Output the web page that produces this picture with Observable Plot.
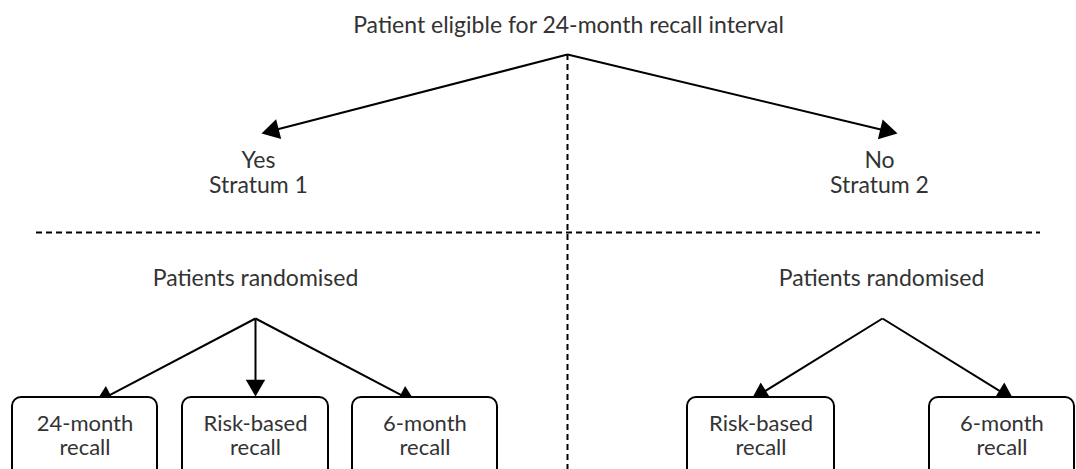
<!DOCTYPE html>
<html>
<head>
<meta charset="utf-8">
<script src="https://cdn.jsdelivr.net/npm/d3@7"></script>
<script src="https://cdn.jsdelivr.net/npm/@observablehq/plot@0.6"></script>
<style>
  html, body { margin: 0; padding: 0; background: #fff; overflow: hidden; }
  #chart svg { display: block; overflow: hidden; }
</style>
</head>
<body>
<div id="chart"></div>
<script>
// ---- Data (flowchart layout in pixel units) ----
const textLabels = [
  "Patient eligible for 24-month recall interval",
  "Yes\nStratum 1",
  "No\nStratum 2",
  "Patients randomised",
  "Patients randomised"
];
const textX = [568, 258, 879, 255, 881];
const textY = [24, 171.5, 171.5, 277, 277];

const boxLabels = ["24-month\nrecall", "Risk-based\nrecall", "6-month\nrecall", "Risk-based\nrecall", "6-month\nrecall"];
const boxX1 = [12, 182, 352, 687, 929];
const boxX2 = [157, 328, 497, 834, 1074];
const boxTop = 397;
const boxBottom = 482;

const edgeFromX = [567, 567, 255, 255, 255, 882, 882];
const edgeFromY = [54, 54, 318, 318, 318, 318, 318];
const edgeToX   = [261, 897, 95, 255, 415, 751, 1013];
const edgeToY   = [133, 133, 402, 396, 402, 399, 399];
const headSize  = [7.6, 7.6, 7.2, 7.2, 7.2, 7.2, 7.2];

const dividerX = 567, dividerY1 = 54, dividerY2 = 469;
const dividerY = 232, dividerX1 = 36, dividerX2 = 1040;

// ---- Build tables ----
const edges = edgeFromX.map((x1, i) => {
  const x2 = edgeToX[i], y1 = edgeFromY[i], y2 = edgeToY[i];
  const dx = x2 - x1, dy = y2 - y1, L = Math.hypot(dx, dy);
  const ux = dx / L, uy = dy / L;
  // equilateral triangle of area pi*r^2 -> side s, height h; centroid sits 2h/3 from tip
  const r = headSize[i];
  const side = Math.sqrt(Math.PI * r * r / (Math.sqrt(3) / 4));
  const off = (side * Math.sqrt(3) / 2) * 2 / 3;
  return {
    x1, y1, r,
    cx: x2 - ux * off,
    cy: y2 - uy * off,
    angle: Math.atan2(dx, -dy) * 180 / Math.PI
  };
});
const boxes = boxLabels.map((label, i) => ({
  label, x1: boxX1[i], x2: boxX2[i], y1: boxTop, y2: boxBottom,
  cx: (boxX1[i] + boxX2[i]) / 2, cy: 434.5
}));
const texts = textLabels.map((label, i) => ({label, x: textX[i], y: textY[i]}));

const chart = Plot.plot({
  width: 1076,
  height: 469,
  margin: 0,
  x: {domain: [0, 1076], range: [0, 1076], axis: null},
  y: {domain: [0, 469], range: [0, 469], axis: null},
  r: {type: "identity"},
  style: {fontFamily: "Lato, sans-serif", fontSize: "22px", background: "#fff", color: "#333"},
  marks: [
    Plot.ruleX([dividerX], {y1: dividerY1, y2: dividerY2, stroke: "#000", strokeWidth: 2, strokeDasharray: "6,4"}),
    Plot.ruleY([dividerY], {x1: dividerX1, x2: dividerX2, stroke: "#000", strokeWidth: 2, strokeDasharray: "6,4"}),
    Plot.link(edges, {x1: "x1", y1: "y1", x2: "cx", y2: "cy", stroke: "#000", strokeWidth: 2}),
    Plot.dot(edges, {x: "cx", y: "cy", symbol: "triangle", r: "r", fill: "#000", stroke: "none", rotate: "angle"}),
    Plot.rect(boxes, {x1: "x1", x2: "x2", y1: "y1", y2: "y2", fill: "#fff", stroke: "#000", strokeWidth: 2, rx: 9}),
    Plot.text(boxes, {x: "cx", y: "cy", text: "label", fill: "#333", fontSize: 22, lineHeight: 24 / 22, lineAnchor: "middle", fontFamily: "Lato"}),
    Plot.text(texts, {x: "x", y: "y", text: "label", fill: "#333", fontSize: 23, lineHeight: 25 / 23, lineAnchor: "middle", fontFamily: "Lato"})
  ]
});
document.getElementById("chart").appendChild(chart);
</script>
</body>
</html>
